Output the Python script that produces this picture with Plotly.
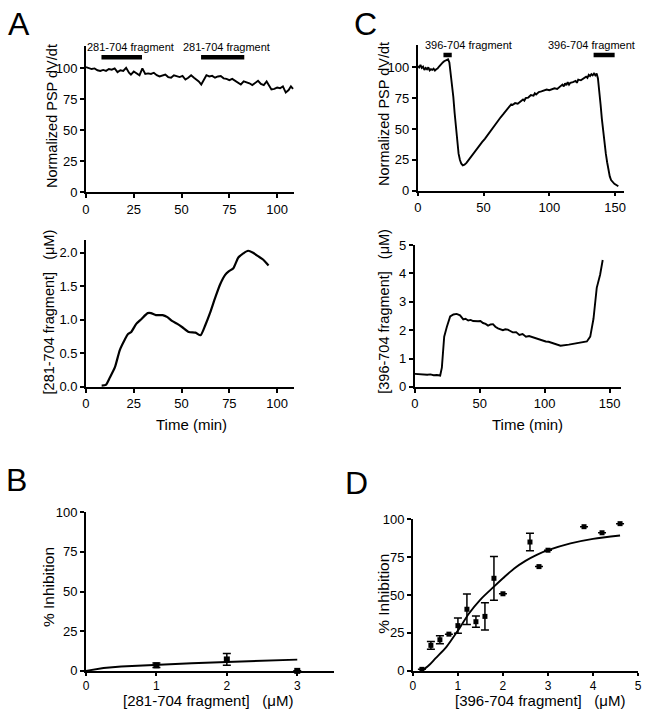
import plotly.graph_objects as go

W, H = 647, 720
FONT = "Liberation Sans, Arial, Helvetica, sans-serif"

# ---------------- Panel A (top): normalized PSP, 281-704 fragment ----------------
a_psp_t = [0, 1.5, 3, 4.5, 6, 7.5, 9, 10.5, 12, 13.5, 15, 16.5, 18, 19.5, 21, 22.5, 23.5, 25, 26.5, 28,
           29.5, 31, 32.5, 34, 35.5, 37, 38.5, 40, 41.5, 43, 44.5, 46, 47.5, 49, 50.5, 52, 53.5, 55, 56.5,
           58, 59, 60.3, 61.5, 63, 64.5, 66, 67.5, 69, 70.5, 72, 73.5, 75, 76.5, 78, 79.5, 81, 82.5, 84,
           85.5, 87, 88.5, 90, 91.5, 93, 94.5, 96, 97, 98.5, 100, 101.5, 103, 104.5, 106, 107.2, 108.3]
a_psp_v = [101, 100.5, 99.5, 100, 98.5, 98, 98.8, 98, 99.5, 99, 100, 97, 98.5, 98, 100.5, 96.5, 95, 97.5, 96, 94.5,
           100, 95.5, 96, 95.5, 96.5, 94.5, 93.5, 94, 95, 93, 92.5, 94.5, 93.5, 93, 94, 91, 92.5, 94.5, 92.5,
           91, 89.5, 87, 90.5, 94.5, 93.5, 94, 92.5, 93.5, 93.8, 92, 91.5, 90.5, 91.5, 90, 88.5, 87, 89.5, 89,
           88, 86.5, 88.5, 90, 87.5, 86.5, 89.5, 86, 83, 83.5, 84.5, 84, 85.5, 80.5, 82.5, 85.5, 83.5]
a_bars = [(8.1, 29.3), (60.2, 82.8)]
a_bar_level = 109
a_bar_labels = ["281-704 fragment", "281-704 fragment"]

# ---------------- Panel A (bottom): concentration ----------------
a_conc_t = [8.2, 10.4, 12.5, 15.1, 17.7, 20.2, 22.0, 23.7, 26.3, 28.9, 32.3, 34.0, 36.6, 40.1, 42.6, 45.2,
            47.8, 50.4, 53.8, 57.3, 59.9, 62.4, 65.0, 67.6, 70.2, 72.8, 74.5, 77.1, 79.7, 82.3, 84.8, 87.4,
            90.0, 92.6, 95.5]
a_conc_v = [0.02, 0.03, 0.14, 0.29, 0.55, 0.70, 0.79, 0.82, 0.94, 1.01, 1.10, 1.10, 1.07, 1.07, 1.04, 0.98,
            0.94, 0.89, 0.82, 0.81, 0.77, 0.92, 1.11, 1.33, 1.53, 1.67, 1.72, 1.77, 1.93, 1.99, 2.03, 2.00,
            1.95, 1.90, 1.81]

# ---------------- Panel B: dose-response 281-704 ----------------
b_x = [1, 2, 3]
b_y = [3.5, 7.2, 0]
b_err = [1.4, 3.7, 0]
b_fit_x = [0, 0.1, 0.25, 0.5, 0.75, 1.0, 1.5, 2.0, 2.5, 3.0]
b_fit_y = [0, 0.9, 1.8, 2.8, 3.4, 3.9, 4.8, 5.6, 6.4, 7.1]

# ---------------- Panel C (top): normalized PSP, 396-704 fragment ----------------
c_psp_t = [0, 1, 2, 3, 4, 5, 6, 7, 8, 9, 10, 11, 12, 13, 14, 15, 16, 17, 18, 19, 20, 21, 22, 23,
           24, 25, 26, 27, 28, 29, 30, 31, 32, 33, 34.2, 35.5, 37, 39, 41, 43, 45, 47, 49, 51, 53, 55,
           57, 59, 61, 63, 65, 67, 69, 70, 71, 72, 74, 76, 78, 80, 81, 82, 84, 86, 88, 89, 90, 92, 94,
           96, 98, 100, 102, 104, 106, 108, 110, 111, 112, 113, 114, 115, 116, 118, 120, 121, 122, 124,
           126, 128, 129, 130, 131, 132, 133, 134, 135, 136, 137, 138, 139, 140, 141, 142, 143, 144, 145,
           146, 147, 148, 149.5, 151, 152.5]
c_psp_v = [101, 100, 102, 99.5, 100.5, 98, 99.5, 98.5, 100, 97.5, 98.5, 98, 99, 97.5, 98.5, 99, 100.5, 102,
           103, 104, 105, 105.5, 106, 106.5, 104, 96, 87, 76, 63, 50, 38, 30, 25, 22, 20.5, 21, 22.5, 25.5,
           28.5, 31.5, 34, 37, 39.5, 42, 45, 48.5, 51, 53.5, 56.5, 59.5, 62, 64.5, 67, 69, 70, 69.5, 71,
           70.5, 72.5, 74, 73, 75, 75.5, 77.5, 77, 79, 78, 80, 80.5, 81, 82, 81.5, 82.5, 83, 82.5, 84, 86,
           84.5, 87, 85.5, 88, 86, 87.5, 88, 89, 87.5, 90, 89.5, 91, 92.5, 91.5, 94, 93, 94.5, 93.5, 95,
           93.5, 95, 91, 82, 70, 58, 47, 38, 30, 23, 16, 11.5, 8.5, 7, 5.5, 4.5, 3.5]
c_bars = [(19.5, 25.8), (133.7, 149.7)]
c_bar_level = 110
c_bar_labels = ["396-704 fragment", "396-704 fragment"]

# ---------------- Panel C (bottom): concentration ----------------
c_conc_t = [0, 2, 4.3, 7, 9.5, 12, 14.5, 17, 19.5, 20.8, 22.6, 24.6, 27.2, 29.7, 32.2, 34.8, 37.3, 39,
            41.1, 43, 44.9, 48.7, 50.5, 52.5, 54.5, 56.4, 58.3, 60.2, 62, 64, 66, 67.8, 69.7, 71.6, 73.5,
            75.4, 78, 80.5, 83, 85.6, 88, 90.6, 93, 95.7, 98, 100.8, 103, 105.9, 109, 112.2, 118.6, 126.2,
            132.5, 135.1, 137.6, 140.1, 142.7, 144.7]
c_conc_v = [0.46, 0.45, 0.46, 0.44, 0.43, 0.44, 0.41, 0.42, 0.40, 0.68, 1.77, 2.11, 2.48, 2.55, 2.57, 2.52,
            2.38, 2.40, 2.34, 2.36, 2.32, 2.31, 2.32, 2.25, 2.22, 2.16, 2.20, 2.21, 2.12, 2.06, 2.04, 2.00,
            2.03, 2.02, 1.97, 1.92, 1.93, 1.83, 1.86, 1.77, 1.79, 1.75, 1.72, 1.66, 1.65, 1.60, 1.59, 1.54,
            1.51, 1.45, 1.49, 1.55, 1.60, 1.77, 2.40, 3.49, 3.95, 4.47]

# ---------------- Panel D: dose-response 396-704 ----------------
d_x = [0.2, 0.4, 0.6, 0.8, 1.0, 1.2, 1.4, 1.6, 1.8, 2.0, 2.6, 2.8, 3.0, 3.8, 4.2, 4.6]
d_y = [1, 16.8, 20.5, 24.2, 29.8, 40.6, 32.4, 35.9, 61, 50.8, 84.9, 68.7, 79.5, 95, 91, 97]
d_err = [0, 2.6, 2.6, 0, 5, 10, 3.7, 9, 14.4, 0, 5.8, 0, 0, 0, 0, 0]
d_fit_x = [0.2, 0.35, 0.5, 0.75, 1.0, 1.25, 1.5, 1.8, 2.0, 2.25, 2.5, 2.75, 3.0, 3.5, 4.0, 4.6]
d_fit_y = [0, 3.5, 8.2, 16, 26.6, 38, 47, 55.5, 61, 67.5, 72.5, 76.5, 79.5, 84, 87, 89.2]


def px_x(p):
    return p / W


def px_y(p):
    return 1 - p / H


fig = go.Figure()
line = dict(color="black", width=1.9)

fig.add_trace(go.Scatter(x=a_psp_t, y=a_psp_v, mode="lines", line=line, xaxis="x", yaxis="y"))
for (s, e) in a_bars:
    fig.add_trace(go.Scatter(x=[s, e], y=[a_bar_level, a_bar_level], mode="lines",
                             line=dict(color="black", width=4.5), xaxis="x", yaxis="y"))
fig.add_trace(go.Scatter(x=a_conc_t, y=a_conc_v, mode="lines", line=dict(color="black", width=2.2,
                         shape="spline", smoothing=0.6), xaxis="x2", yaxis="y2"))

fig.add_trace(go.Scatter(x=b_fit_x, y=b_fit_y, mode="lines", line=line, xaxis="x3", yaxis="y3"))
fig.add_trace(go.Scatter(x=b_x, y=b_y, mode="markers",
                         marker=dict(symbol="square", size=6, color="black"),
                         error_y=dict(type="data", array=b_err, color="black", thickness=1.5, width=4),
                         xaxis="x3", yaxis="y3", cliponaxis=False))

fig.add_trace(go.Scatter(x=c_psp_t, y=c_psp_v, mode="lines", line=line, xaxis="x4", yaxis="y4"))
for (s, e) in c_bars:
    fig.add_trace(go.Scatter(x=[s, e], y=[c_bar_level, c_bar_level], mode="lines",
                             line=dict(color="black", width=4.5), xaxis="x4", yaxis="y4"))
fig.add_trace(go.Scatter(x=c_conc_t, y=c_conc_v, mode="lines", line=line, xaxis="x5", yaxis="y5"))

fig.add_trace(go.Scatter(x=d_fit_x, y=d_fit_y, mode="lines", line=dict(color="black", width=1.9,
                         shape="spline", smoothing=0.8), xaxis="x6", yaxis="y6"))
fig.add_trace(go.Scatter(x=d_x, y=d_y, mode="markers",
                         marker=dict(symbol="square", size=5, color="black"),
                         error_y=dict(type="data", array=d_err, color="black", thickness=1.5, width=4),
                         xaxis="x6", yaxis="y6", cliponaxis=False))

axis_common = dict(showline=True, linecolor="black", linewidth=1.8, ticks="outside", ticklen=4,
                   tickwidth=1.5, tickcolor="black", showgrid=False, zeroline=False,
                   tickfont=dict(family=FONT, size=13, color="black"), fixedrange=True)
small_ticks = dict(ticklen=3, tickfont=dict(family=FONT, size=12, color="black"))

layout_axes = {
    "xaxis": dict(domain=[px_x(83), px_x(294)], range=[0, 109], tickvals=[0, 25, 50, 75, 100], anchor="y"),
    "yaxis": dict(domain=[px_y(189), px_y(40)], range=[0, 118], tickvals=[0, 25, 50, 75, 100], anchor="x"),
    "xaxis2": dict(domain=[px_x(83), px_x(294)], range=[0, 109], tickvals=[0, 25, 50, 75, 100], anchor="y2"),
    "yaxis2": dict(domain=[px_y(388), px_y(238)], range=[0, 2.19], tickvals=[0, 0.5, 1, 1.5, 2],
                   tickformat=".1f", anchor="x2"),
    "xaxis3": dict(domain=[px_x(83), px_x(334)], range=[0, 3.52], tickvals=[0, 1, 2, 3], anchor="y3",
                   **small_ticks),
    "yaxis3": dict(domain=[px_y(678), px_y(516)], range=[0, 100], tickvals=[0, 25, 50, 75, 100], anchor="x3"),
    "xaxis4": dict(domain=[px_x(419), px_x(628)], range=[0, 157], tickvals=[0, 50, 100, 150], anchor="y4"),
    "yaxis4": dict(domain=[px_y(187.5), px_y(39)], range=[0, 118], tickvals=[0, 25, 50, 75, 100], anchor="x4"),
    "xaxis5": dict(domain=[px_x(416), px_x(625)], range=[0, 159], tickvals=[0, 50, 100, 150], anchor="y5"),
    "yaxis5": dict(domain=[px_y(388), px_y(243)], range=[0, 5], tickvals=[0, 1, 2, 3, 4, 5], anchor="x5"),
    "xaxis6": dict(domain=[px_x(414), px_x(642)], range=[0, 5], tickvals=[0, 1, 2, 3, 4, 5], anchor="y6",
                   **small_ticks),
    "yaxis6": dict(domain=[px_y(678), px_y(523)], range=[0, 100], tickvals=[0, 25, 50, 75, 100], anchor="x6"),
}
for k, v in layout_axes.items():
    d = dict(axis_common)
    d.update(v)
    layout_axes[k] = d

NB = "\u00a0"
annotations = []


def text(x, y, s, size, angle=0):
    annotations.append(dict(x=px_x(x), y=px_y(y), xref="paper", yref="paper", text=s, showarrow=False,
                            textangle=angle, xanchor="center", yanchor="middle",
                            font=dict(family=FONT, size=size, color="black")))


# panel letters
text(15, 17, "A", 32)
text(366, 17, "C", 32)
text(13, 483, "B", 32)
text(357, 486, "D", 32)

# bar labels (pixel centres)
text(128.5, 41, a_bar_labels[0], 11)
text(225.5, 41, a_bar_labels[1], 11)
text(470, 38.5, c_bar_labels[0], 11)
text(595, 38.5, c_bar_labels[1], 11)

conc_281 = "[281-704 fragment]" + NB * 3 + "(\u03bcM)"
conc_396 = "[396-704 fragment]" + NB * 3 + "(\u03bcM)"

# axis titles
text(48.5, 111.5, "Normalized PSP dV/dt", 14.5, -90)
text(45.5, 311, conc_281, 14.5, -90)
text(190, 426, "Time (min)", 15)
text(384, 109, "Normalized PSP dV/dt", 14.5, -90)
text(384, 311, conc_396, 14.5, -90)
text(530, 426, "Time (min)", 15)
text(45, 592, "% Inhibition", 15.5, -90)
text(207, 708.5, conc_281, 15)
text(384, 599, "% Inhibition", 15.5, -90)
text(543, 708.5, conc_396, 15)

fig.update_layout(width=W, height=H, autosize=False, margin=dict(l=0, r=0, t=0, b=0),
                  paper_bgcolor="white", plot_bgcolor="white", showlegend=False,
                  font=dict(family=FONT, color="black"), annotations=annotations, **layout_axes)

fig.write_html("out.html", config={"displayModeBar": False},
               post_script="document.body.style.margin='0px';")
